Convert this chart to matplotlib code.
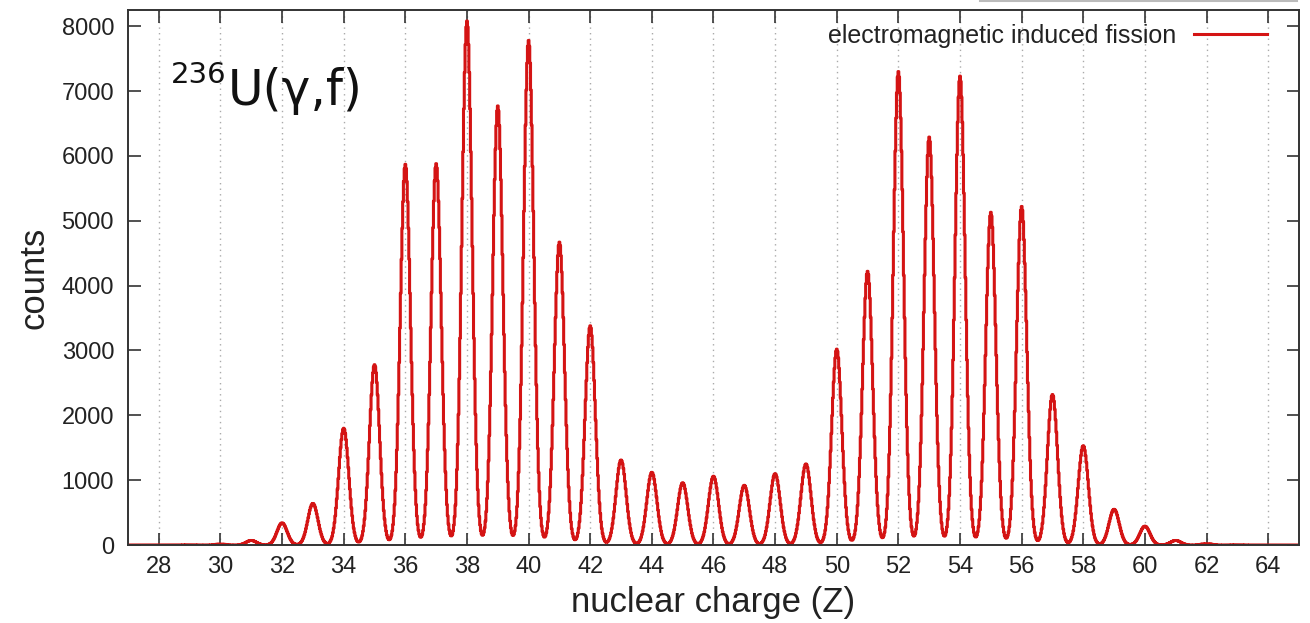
import numpy as np
import matplotlib.pyplot as plt
from matplotlib.lines import Line2D

# ------------------------------------------------------------
# Data: peak height (counts) per element Z
# ------------------------------------------------------------
z_values = np.arange(28, 65)
peak_counts = [
    0, 5, 15, 70, 340, 640, 1800, 2780, 5870, 5880,   # 28-37
    8080, 6770, 7780, 4670, 3380, 1310, 1120, 960, 1060, 920,  # 38-47
    1100, 1250, 3020, 4220, 7300, 6290, 7230, 5130, 5220, 2320,  # 48-57
    1530, 550, 290, 70, 20, 5, 0,   # 58-64
]

# detector charge resolution (sigma in Z units) and histogram binning
sigma_z = 0.165
bin_width = 0.025

x_lo, x_hi = 27.0, 65.0
y_hi = 8250

# build the histogram from the peak list
z_bins = np.arange(x_lo, x_hi + bin_width, bin_width)
counts = np.zeros_like(z_bins)
for z0, a in zip(z_values, peak_counts):
    counts += a * np.exp(-0.5 * ((z_bins - z0) / sigma_z) ** 2)

# ------------------------------------------------------------
# Plot
# ------------------------------------------------------------
plt.rcParams["font.family"] = ["Liberation Sans", "DejaVu Sans"]

fig = plt.figure(figsize=(13.1, 6.23), dpi=100)
ax = fig.add_axes([0.0977, 0.1252, 0.8939, 0.8588])

ax.plot(z_bins, counts, drawstyle="steps-mid", color="#d41414", lw=2.2,
        label="electromagnetic induced fission")

ax.set_xlim(x_lo, x_hi)
ax.set_ylim(0, y_hi)
ax.set_xticks(np.arange(28, 65, 2))
ax.set_yticks(np.arange(0, 8001, 1000))

ax.grid(axis="x", color="#aaaaaa", linestyle=(0, (1, 3)), lw=1.0)
ax.tick_params(direction="in", length=9, width=1.2, color="#333333",
               top=True, right=True, labelsize=17, labelcolor="#222222")
ax.tick_params(axis="x", pad=8)
ax.tick_params(axis="y", pad=10)
for sp in ax.spines.values():
    sp.set_linewidth(1.4)
    sp.set_color("#333333")

ax.set_xlabel("nuclear charge (Z)", fontsize=25, labelpad=6, color="#222222")
ax.set_ylabel("counts", fontsize=25, labelpad=8, color="#222222")

# reaction label
ax.text(30.25, 6780, "U(\u03b3,f)", fontsize=35, family="DejaVu Sans",
        ha="left", va="baseline", color="#111111")
ax.text(30.2, 7120, "236", fontsize=21, family="DejaVu Sans",
        ha="right", va="baseline", color="#111111")

leg = ax.legend(loc="upper right", bbox_to_anchor=(0.981, 0.993), frameon=False,
                markerfirst=False, handlelength=2.9, handletextpad=0.7,
                fontsize=18, borderaxespad=0.0)
for t in leg.get_texts():
    t.set_color("#222222")

# edge of a cropped box at the top right of the picture
fig.add_artist(Line2D([980 / 1310, 1297 / 1310], [622 / 623, 622 / 623],
                      color="#bbbbbb", lw=1.5))

fig.savefig("out.png", dpi=100)
